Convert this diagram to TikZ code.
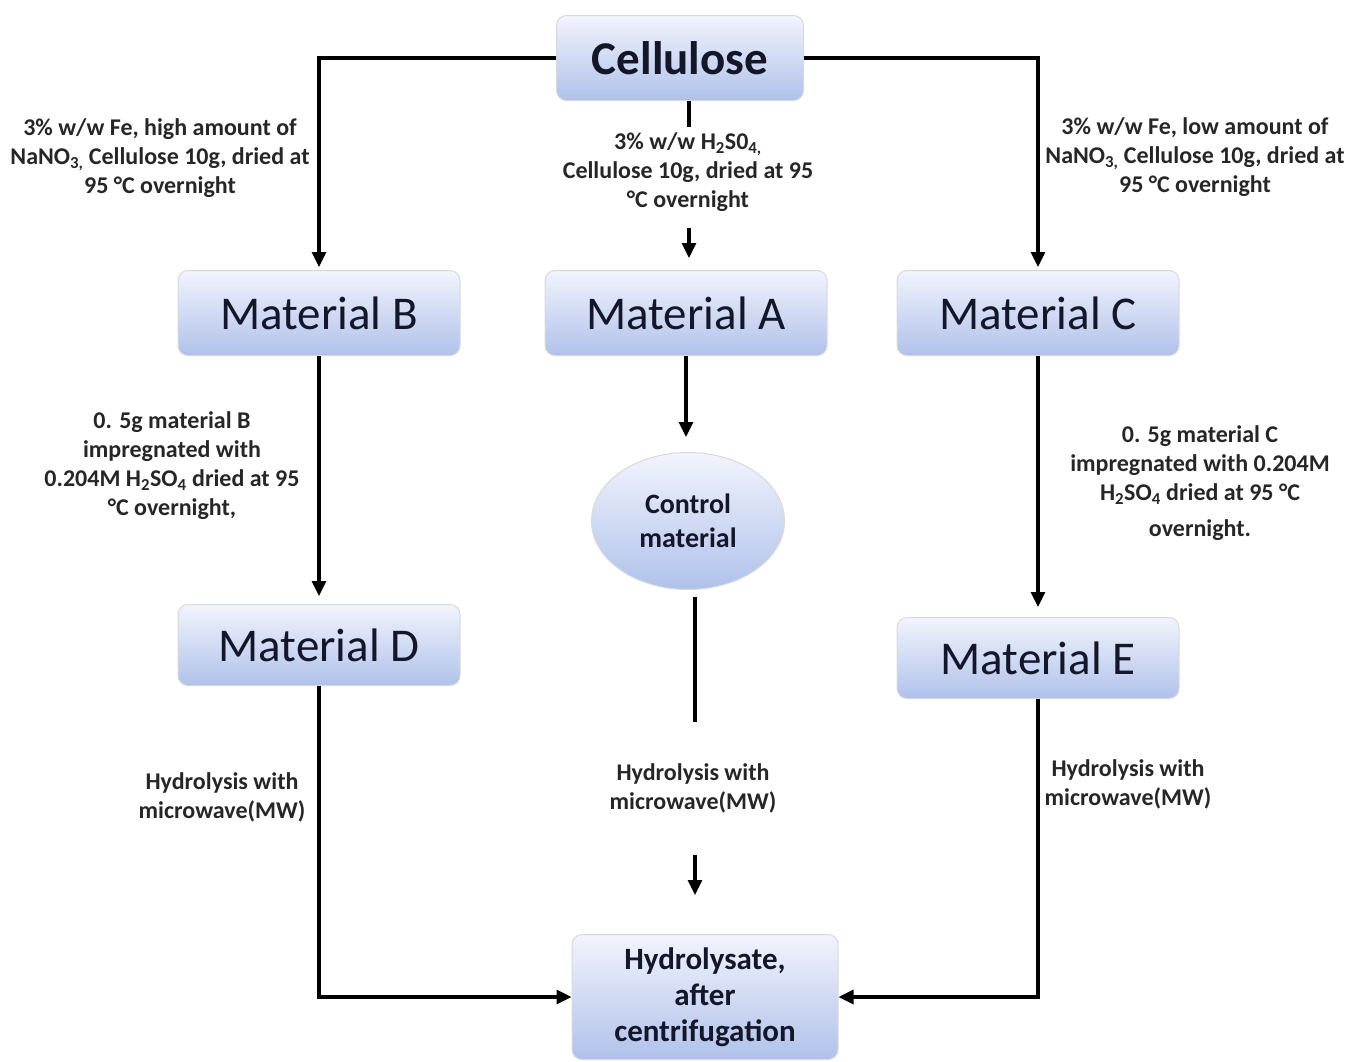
\documentclass[tikz,border=0pt]{standalone}
\usepackage{fontspec}
\setmainfont{Carlito}
\usetikzlibrary{arrows.meta,shapes.geometric}
\definecolor{boxtop}{RGB}{242,244,253}
\definecolor{boxbot}{RGB}{176,193,234}
\definecolor{boxtext}{RGB}{20,22,42}
\definecolor{lbltext}{RGB}{38,38,38}
\begin{document}
\begin{tikzpicture}[x=1pt,y=-1pt,
  flow/.style={line width=3.2pt, draw=black},
  arr/.style={flow, -{Triangle[length=15pt,width=14pt]}},
  box/.style={rounded corners=10pt, top color=boxtop, bottom color=boxbot, draw=gray!30, line width=1pt, text=boxtext, inner sep=0pt, align=center},
  matbox/.style={box, minimum width=282pt, minimum height=85pt, font=\fontsize{47}{56}\selectfont},
  lbl/.style={font=\bfseries\fontsize{24}{29}\selectfont, text=lbltext, align=center, inner sep=0pt},
]
\useasboundingbox (0,0) rectangle (1350,1061);

% boxes
\node[box, minimum width=247pt, minimum height=85pt, font=\bfseries\fontsize{47}{56}\selectfont] (cell) at (680,58) {Cellulose};
\node[matbox] (matB) at (319,313) {Material B};
\node[matbox] (matA) at (686,313) {Material A};
\node[matbox] (matC) at (1038,313) {Material C};
\node[matbox, minimum height=81pt] (matD) at (319,645) {Material D};
\node[matbox, minimum height=81pt] (matE) at (1038,658) {Material E};
\node[box, ellipse, minimum width=193pt, minimum height=137pt, font=\bfseries\fontsize{28}{34}\selectfont] (ctrl) at (688,521) {Control\\material};
\node[box, minimum width=266pt, minimum height=125pt, font=\bfseries\fontsize{31}{36}\selectfont] (hyd) at (705,997) {Hydrolysate,\\after\\centrifugation};

% labels
\node[lbl] (lB1) at (160,158) {3\% w/w Fe, high amount of\\NaNO\textsubscript{3,} Cellulose 10g, dried at\\95 °C overnight};
\node[lbl] (lA1) at (688,172) {3\% w/w H\textsubscript{2}S0\textsubscript{4,}\\Cellulose 10g, dried at 95\\°C overnight};
\node[lbl] (lC1) at (1195,157) {3\% w/w Fe, low amount of\\NaNO\textsubscript{3,} Cellulose 10g, dried at\\95 °C overnight};
\node[lbl] (lB2) at (172,466) {0. 5g material B\\impregnated with\\0.204M H\textsubscript{2}SO\textsubscript{4} dried at 95\\°C overnight,};
\node[lbl] (lC2) at (1200,483) {0. 5g material C\\impregnated with 0.204M\\H\textsubscript{2}SO\textsubscript{4} dried at 95 °C\\[7pt]overnight.};
\node[lbl] (lD) at (222,797) {Hydrolysis with\\microwave(MW)};
\node[lbl] (lCt) at (693,788) {Hydrolysis with\\microwave(MW)};
\node[lbl] (lE) at (1128,784) {Hydrolysis with\\microwave(MW)};

% free ends
\coordinate (c1) at (689,127);
\coordinate (a1) at (689,228);
\coordinate (a2) at (689,258);
\coordinate (b1) at (686,437);
\coordinate (d1) at (695,597);
\coordinate (d2) at (695,722);
\coordinate (e1) at (695,855);
\coordinate (e2) at (695,895);

% connectors
\draw[flow] (cell.south -| c1) -- (c1);
\draw[arr] (a1) -- (a2);
\draw[arr] (matA.south) -- (b1);
\draw[flow] (d1) -- (d2);
\draw[arr] (e1) -- (e2);
\draw[arr, shorten >=3pt] (cell.west) -| (matB.north);
\draw[arr, shorten >=3pt] (cell.east) -| (matC.north);
\draw[arr, shorten >=8pt] (matB.south) -- (matD.north);
\draw[arr, shorten >=10pt] (matC.south) -- (matE.north);
\draw[arr] (matD.south) |- (hyd.west);
\draw[arr] (matE.south) |- (hyd.east);
\end{tikzpicture}
\end{document}
